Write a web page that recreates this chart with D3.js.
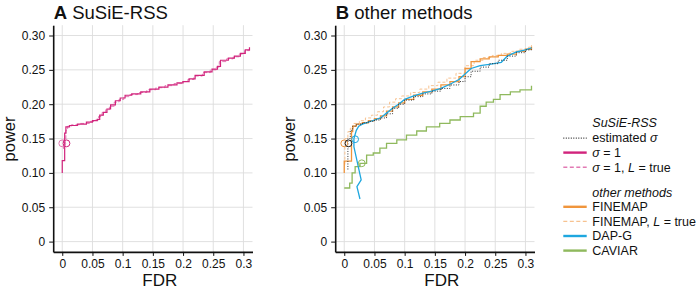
<!DOCTYPE html>
<html lang="en">
<head>
<meta charset="UTF-8">
<title>SuSiE-RSS power vs FDR</title>
<style>
  body { margin: 0; background: #fff; }
  svg text { font-family: "Liberation Sans", Arial, Helvetica, sans-serif; fill: #111; }
  .axis text { font-size: 12px; }
  .axis path, .axis line { stroke: #111; }
  .grid line { stroke: #dcdcdc; stroke-width: 0.9; }
  .lbl { font-size: 17px; }
  .ylbl { font-size: 16.5px; }
  .leg { font-size: 12.5px; }
</style>
</head>
<body>
<svg width="697" height="290"></svg>
<script src="https://d3js.org/d3.v7.min.js"></script>
<script>

var xTicks = [0, 0.05, 0.1, 0.15, 0.2, 0.25, 0.3];
var xTickLabels = ["0", "0.05", "0.1", "0.15", "0.2", "0.25", "0.3"];
var yTicks = [0, 0.05, 0.1, 0.15, 0.2, 0.25, 0.3];
var yTickLabels = ["0", "0.05", "0.10", "0.15", "0.20", "0.25", "0.30"];

// panel A: SuSiE-RSS, sigma = 1
var susieFdr   = [0, 0, 0.004, 0.006, 0.012, 0.025, 0.04, 0.05, 0.058, 0.062, 0.068, 0.074, 0.08, 0.088, 0.096, 0.104, 0.115, 0.13, 0.145, 0.16, 0.175, 0.19, 0.2, 0.21, 0.22, 0.235, 0.248, 0.257, 0.262, 0.275, 0.285, 0.295, 0.303, 0.31];
var susiePower = [0.10, 0.118, 0.158, 0.167, 0.169, 0.171, 0.174, 0.176, 0.178, 0.184, 0.188, 0.193, 0.199, 0.205, 0.209, 0.213, 0.215, 0.218, 0.222, 0.225, 0.228, 0.231, 0.233, 0.237, 0.242, 0.247, 0.251, 0.255, 0.264, 0.267, 0.270, 0.274, 0.279, 0.283];
// panel A: SuSiE-RSS, sigma = 1, L = true
var susieLFdr   = [0.002, 0.002, 0.006, 0.009, 0.015, 0.03, 0.045, 0.055, 0.06, 0.066, 0.072, 0.078, 0.086, 0.094, 0.102, 0.112, 0.125, 0.14, 0.155, 0.17, 0.185, 0.198, 0.208, 0.218, 0.232, 0.245, 0.255, 0.26, 0.272, 0.283, 0.293, 0.302, 0.31];
var susieLPower = [0.135, 0.148, 0.162, 0.168, 0.170, 0.172, 0.175, 0.177, 0.182, 0.188, 0.192, 0.197, 0.203, 0.207, 0.211, 0.214, 0.217, 0.221, 0.224, 0.227, 0.230, 0.233, 0.236, 0.241, 0.246, 0.250, 0.254, 0.262, 0.266, 0.269, 0.273, 0.278, 0.282];

// panel B
var estFdr   = [0.006, 0.006, 0.01, 0.014, 0.02, 0.03, 0.04, 0.05, 0.06, 0.07, 0.08, 0.09, 0.1, 0.115, 0.13, 0.145, 0.16, 0.175, 0.19, 0.2, 0.21, 0.225, 0.24, 0.255, 0.27, 0.285, 0.3, 0.31];
var estPower = [0.105, 0.15, 0.162, 0.168, 0.171, 0.173, 0.175, 0.177, 0.18, 0.186, 0.194, 0.2, 0.206, 0.211, 0.215, 0.219, 0.223, 0.228, 0.233, 0.24, 0.248, 0.254, 0.259, 0.264, 0.27, 0.275, 0.279, 0.282];

var finemapFdr   = [0, 0, 0.012, 0.014, 0.02, 0.03, 0.04, 0.05, 0.06, 0.07, 0.08, 0.09, 0.1, 0.115, 0.13, 0.145, 0.16, 0.175, 0.19, 0.2, 0.21, 0.225, 0.24, 0.255, 0.27, 0.285, 0.3, 0.31];
var finemapPower = [0.10, 0.117, 0.16, 0.168, 0.171, 0.173, 0.176, 0.179, 0.183, 0.19, 0.196, 0.202, 0.207, 0.213, 0.218, 0.222, 0.228, 0.233, 0.24, 0.252, 0.262, 0.266, 0.269, 0.271, 0.273, 0.277, 0.280, 0.284];

var finemapLFdr   = [0.001, 0.001, 0.006, 0.01, 0.015, 0.025, 0.035, 0.045, 0.055, 0.065, 0.075, 0.085, 0.095, 0.11, 0.125, 0.14, 0.155, 0.17, 0.185, 0.2, 0.215, 0.23, 0.245, 0.26, 0.275, 0.29, 0.305, 0.31];
var finemapLPower = [0.112, 0.15, 0.16, 0.165, 0.172, 0.176, 0.18, 0.184, 0.189, 0.196, 0.203, 0.208, 0.212, 0.217, 0.222, 0.227, 0.232, 0.238, 0.245, 0.256, 0.264, 0.268, 0.271, 0.274, 0.277, 0.28, 0.283, 0.286];

var dapgFdr   = [0.026, 0.021, 0.028, 0.016, 0.016, 0.02, 0.024, 0.03, 0.04, 0.05, 0.06, 0.07, 0.08, 0.09, 0.1, 0.115, 0.13, 0.145, 0.16, 0.175, 0.19, 0.2, 0.21, 0.225, 0.24, 0.26, 0.27, 0.285, 0.3, 0.31];
var dapgPower = [0.062, 0.08, 0.09, 0.138, 0.15, 0.162, 0.168, 0.171, 0.174, 0.177, 0.18, 0.187, 0.194, 0.2, 0.207, 0.212, 0.216, 0.219, 0.223, 0.229, 0.236, 0.244, 0.252, 0.256, 0.258, 0.261, 0.27, 0.276, 0.279, 0.282];

var caviarFdr   = [0, 0.009, 0.013, 0.018, 0.026, 0.037, 0.048, 0.059, 0.07, 0.087, 0.103, 0.12, 0.136, 0.158, 0.175, 0.192, 0.214, 0.225, 0.235, 0.247, 0.258, 0.275, 0.291, 0.31];
var caviarPower = [0.078, 0.085, 0.1, 0.109, 0.114, 0.126, 0.129, 0.136, 0.143, 0.148, 0.155, 0.161, 0.167, 0.172, 0.177, 0.182, 0.187, 0.197, 0.203, 0.207, 0.214, 0.218, 0.221, 0.227];

// highlighted points (open circles)
var circlesA = [{fdr: 0, power: 0.143, color: "#e27ab4"}, {fdr: 0.007, power: 0.143, color: "#d1247c"}];
var circlesB = [
  {fdr: 0, power: 0.143, color: "#f0953c"},
  {fdr: 0.007, power: 0.143, color: "#222"},
  {fdr: 0.018, power: 0.149, color: "#1ea7df"},
  {fdr: 0.029, power: 0.114, color: "#8fb95d"}
];

function zip(a, b) { return a.map(function(v, i) { return [v, b[i]]; }); }

var svg = d3.select("svg");
var plotW = 199.3;
var yScale = d3.scaleLinear().domain([-0.015, 0.315]).range([251.9, 25.2]);

var panels = [
  { letter: "A", title: "SuSiE-RSS", left: 53.2, labelX: 14.5,
    series: [
      { pts: zip(susieLFdr, susieLPower), color: "#e27ab4", width: 1.0, dash: "4,2", curve: d3.curveStepAfter },
      { pts: zip(susieFdr, susiePower), color: "#d1247c", width: 1.2, dash: null, curve: d3.curveStepAfter }
    ],
    circles: circlesA },
  { letter: "B", title: "other methods", left: 335.2, labelX: 295,
    series: [
      { pts: zip(caviarFdr, caviarPower), color: "#8fb95d", width: 1.3, dash: null, curve: d3.curveStepAfter },
      { pts: zip(finemapLFdr, finemapLPower), color: "#f7c290", width: 1.0, dash: "3,2", curve: d3.curveStepAfter },
      { pts: zip(finemapFdr, finemapPower), color: "#f0953c", width: 1.3, dash: null, curve: d3.curveStepAfter },
      { pts: zip(dapgFdr, dapgPower), color: "#1ea7df", width: 1.3, dash: null, curve: d3.curveLinear },
      { pts: zip(estFdr, estPower), color: "#333", width: 1.0, dash: "1,1.5", curve: d3.curveStepAfter }
    ],
    circles: circlesB }
];

panels.forEach(function(p) {
  var x = d3.scaleLinear().domain([-0.015, 0.315]).range([p.left, p.left + plotW]);
  var g = svg.append("g");

  // grid
  var grid = g.append("g").attr("class", "grid");
  grid.selectAll(".gx").data(xTicks).enter().append("line")
      .attr("x1", function(d) { return x(d); }).attr("x2", function(d) { return x(d); })
      .attr("y1", yScale.range()[0]).attr("y2", yScale.range()[1]);
  grid.selectAll(".gy").data(yTicks).enter().append("line")
      .attr("x1", x.range()[0]).attr("x2", x.range()[1])
      .attr("y1", function(d) { return yScale(d); }).attr("y2", function(d) { return yScale(d); });

  // curves
  p.series.forEach(function(s) {
    var line = d3.line().x(function(d) { return x(d[0]); }).y(function(d) { return yScale(d[1]); }).curve(s.curve);
    g.append("path").datum(s.pts)
      .attr("d", line)
      .attr("fill", "none")
      .attr("stroke", s.color)
      .attr("stroke-width", s.width)
      .attr("stroke-dasharray", s.dash);
  });

  g.selectAll(".pt").data(p.circles).enter().append("circle")
    .attr("cx", function(d) { return x(d.fdr); })
    .attr("cy", function(d) { return yScale(d.power); })
    .attr("r", 3.4)
    .attr("fill", "none")
    .attr("stroke", function(d) { return d.color; })
    .attr("stroke-width", 1);

  // axes
  var xAxis = d3.axisBottom(x).tickValues(xTicks)
      .tickFormat(function(d, i) { return xTickLabels[i]; })
      .tickSizeInner(4).tickSizeOuter(0).tickPadding(3);
  var yAxis = d3.axisLeft(yScale).tickValues(yTicks)
      .tickFormat(function(d, i) { return yTickLabels[i]; })
      .tickSizeInner(4).tickSizeOuter(0).tickPadding(4);

  var gx = g.append("g").attr("class", "axis")
      .attr("transform", "translate(0," + yScale.range()[0] + ")").call(xAxis);
  var gy = g.append("g").attr("class", "axis")
      .attr("transform", "translate(" + p.left + ",0)").call(yAxis);
  [gx, gy].forEach(function(a) {
    a.select(".domain").attr("stroke-width", 1.6);
    a.selectAll("text").attr("fill", "#111").attr("font-family", null).attr("font-size", null);
  });
  gx.selectAll(".tick text").attr("dy", "0.8em");

  // axis labels
  g.append("text").attr("class", "lbl")
    .attr("x", p.left + plotW / 2 + 7).attr("y", 286.3)
    .attr("text-anchor", "middle").text("FDR");
  g.append("text").attr("class", "ylbl")
    .attr("transform", "translate(" + p.labelX + ",139) rotate(-90)")
    .attr("text-anchor", "middle").text("power");

  // title
  var t = g.append("text").attr("x", p.left + 0.5).attr("y", 18.5).attr("font-size", "18.5px");
  t.append("tspan").attr("font-weight", "bold").text(p.letter);
  t.append("tspan").text(" " + p.title);
});

// legend
var legX = 563.3, legTextX = 592.3;
var legRows = [
  { type: "head", y: 126.7, parts: [["SuSiE-RSS", true]] },
  { type: "key", y: 142.3, color: "#333", width: 1.3, dash: "1,1.5", parts: [["estimated ", false], ["\u03c3", true]] },
  { type: "key", y: 156.8, color: "#d1247c", width: 2.4, dash: null, parts: [["\u03c3", true], [" = 1", false]] },
  { type: "key", y: 171.5, color: "#e27ab4", width: 1.4, dash: "4,2.5", parts: [["\u03c3", true], [" = 1, ", false], ["L", true], [" = true", false]] },
  { type: "head", y: 196.5, parts: [["other methods", true]] },
  { type: "key", y: 211, color: "#f0953c", width: 2.4, dash: null, parts: [["FINEMAP", false]] },
  { type: "key", y: 225.6, color: "#f7c290", width: 1.4, dash: "4,2.5", parts: [["FINEMAP, ", false], ["L", true], [" = true", false]] },
  { type: "key", y: 240.2, color: "#1ea7df", width: 2.4, dash: null, parts: [["DAP-G", false]] },
  { type: "key", y: 254.8, color: "#8fb95d", width: 2.4, dash: null, parts: [["CAVIAR", false]] }
];
var leg = svg.append("g");
legRows.forEach(function(r) {
  if (r.type === "key") {
    leg.append("line")
      .attr("x1", legX).attr("x2", legX + 23.4)
      .attr("y1", r.y - 4.2).attr("y2", r.y - 4.2)
      .attr("stroke", r.color).attr("stroke-width", r.width)
      .attr("stroke-dasharray", r.dash);
  }
  var t = leg.append("text").attr("class", "leg").attr("x", legTextX).attr("y", r.y);
  r.parts.forEach(function(pt) {
    t.append("tspan").attr("font-style", pt[1] ? "italic" : null).text(pt[0]);
  });
});

</script>
</body>
</html>
